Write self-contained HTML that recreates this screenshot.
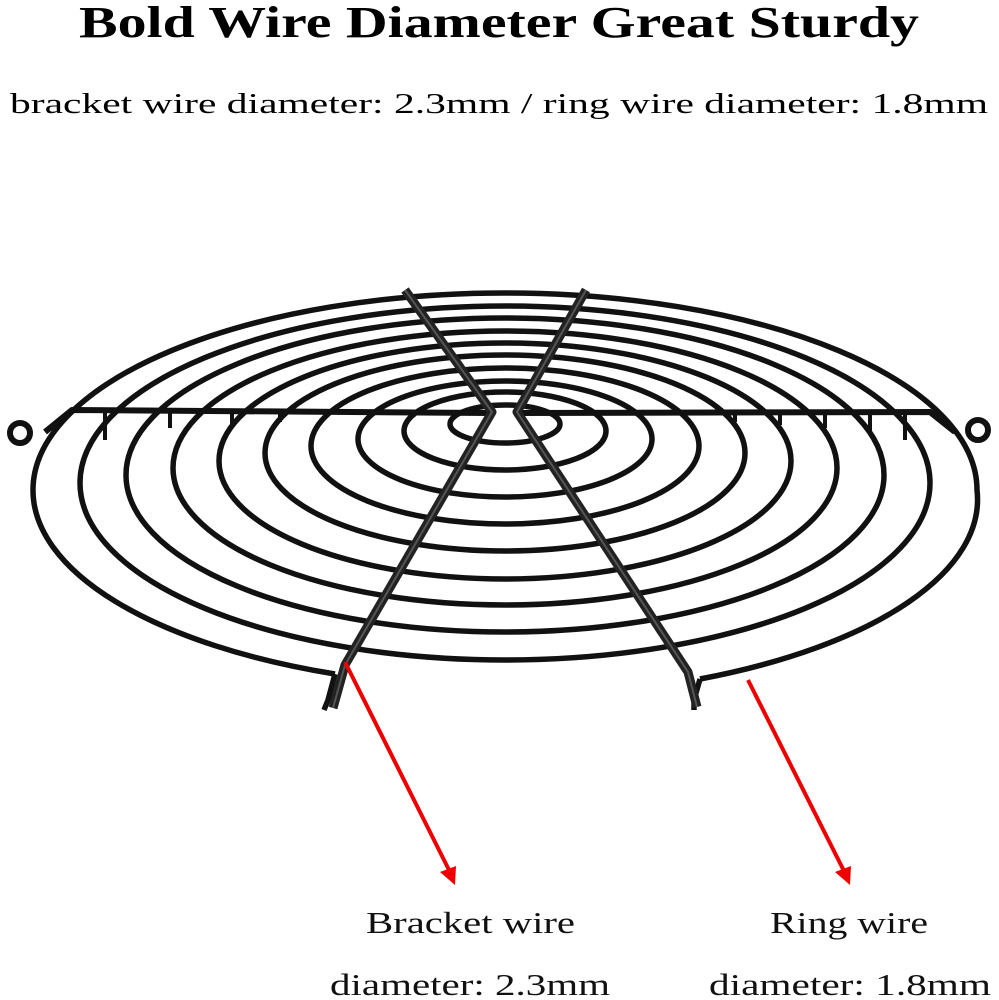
<!DOCTYPE html>
<html><head><meta charset="utf-8"><style>
html,body{margin:0;padding:0;background:#fff;}
svg{display:block}
</style></head><body>
<svg width="999" height="1000" viewBox="0 0 999 1000" xmlns="http://www.w3.org/2000/svg">
<rect width="999" height="1000" fill="#fff"/>
<text x="499" y="37" text-anchor="middle" font-family="Liberation Serif, serif" font-weight="bold" font-size="44" textLength="840" lengthAdjust="spacingAndGlyphs">Bold Wire Diameter Great Sturdy</text>
<text x="499" y="113" text-anchor="middle" font-family="Liberation Serif, serif" font-size="29" textLength="978" lengthAdjust="spacingAndGlyphs">bracket wire diameter: 2.3mm / ring wire diameter: 1.8mm</text>

<g fill="none" stroke="#111" stroke-width="5.5">
  <ellipse cx="505" cy="424" rx="55" ry="19"/>
  <ellipse cx="505" cy="431" rx="101" ry="39"/>
  <ellipse cx="505" cy="439" rx="147" ry="58"/>
  <ellipse cx="505" cy="446" rx="194" ry="78"/>
  <ellipse cx="505" cy="453" rx="240" ry="98"/>
  <ellipse cx="505" cy="461" rx="286" ry="118"/>
  <ellipse cx="505" cy="468" rx="332" ry="137"/>
  <ellipse cx="505" cy="475" rx="379" ry="157"/>
  <ellipse cx="505" cy="483" rx="425" ry="177"/>
  <path d="M 335 674 A 472 197 0 0 1 33 490 A 472 197 0 0 1 977 490 A 472 197 0 0 1 700 679"/>
  <path d="M 335 674 L 328 700 L 324 710"/>
  <path d="M 700 679 L 694 700 L 694 710"/>
</g>
<!-- horizontal bar -->
<g fill="none" stroke="#111" stroke-width="6" stroke-linejoin="round">
  <path d="M 45 432 L 72 410 L 490 413"/>
  <path d="M 520 413 L 930 412 L 955 432"/>
  <circle cx="20" cy="433" r="10"/>
  <circle cx="978" cy="430" r="10"/>
</g>
<g stroke="#111" stroke-width="4">
  <line x1="105" y1="412" x2="105" y2="440"/>
  <line x1="170" y1="412" x2="170" y2="428"/>
  <line x1="232" y1="412" x2="232" y2="425"/>
  <line x1="280" y1="412" x2="280" y2="422"/>
  <line x1="735" y1="412" x2="735" y2="422"/>
  <line x1="780" y1="412" x2="780" y2="425"/>
  <line x1="825" y1="412" x2="825" y2="428"/>
  <line x1="870" y1="412" x2="870" y2="435"/>
  <line x1="905" y1="412" x2="905" y2="440"/>
</g>
<!-- bracket wires -->
<g fill="none" stroke="#222" stroke-width="9" stroke-linejoin="round">
  <path d="M 405 290 L 492 412 L 345 665 L 333 708"/>
  <path d="M 586 290 L 517 412 L 688 672 L 697 707"/>
</g>
<g fill="none" stroke="#555" stroke-width="2" stroke-linejoin="round">
  <path d="M 405 290 L 492 412 L 345 665 L 333 708"/>
  <path d="M 586 290 L 517 412 L 688 672 L 697 707"/>
</g>
<!-- arrows -->
<g stroke="#e00" stroke-width="4" fill="#e00">
  <line x1="345" y1="662" x2="450" y2="872"/>
  <polygon points="455,885 440,872 456,866" stroke="none"/>
  <line x1="748" y1="680" x2="845" y2="873"/>
  <polygon points="850,885 835,872 851,866" stroke="none"/>
</g>
<g font-family="Liberation Serif, serif" font-size="31" fill="#111">
  <text x="366" y="933" textLength="209" lengthAdjust="spacingAndGlyphs">Bracket wire</text>
  <text x="330" y="995" textLength="280" lengthAdjust="spacingAndGlyphs">diameter: 2.3mm</text>
  <text x="770" y="933" textLength="158" lengthAdjust="spacingAndGlyphs">Ring wire</text>
  <text x="709" y="995" textLength="282" lengthAdjust="spacingAndGlyphs">diameter: 1.8mm</text>
</g>
</svg>
</body></html>
